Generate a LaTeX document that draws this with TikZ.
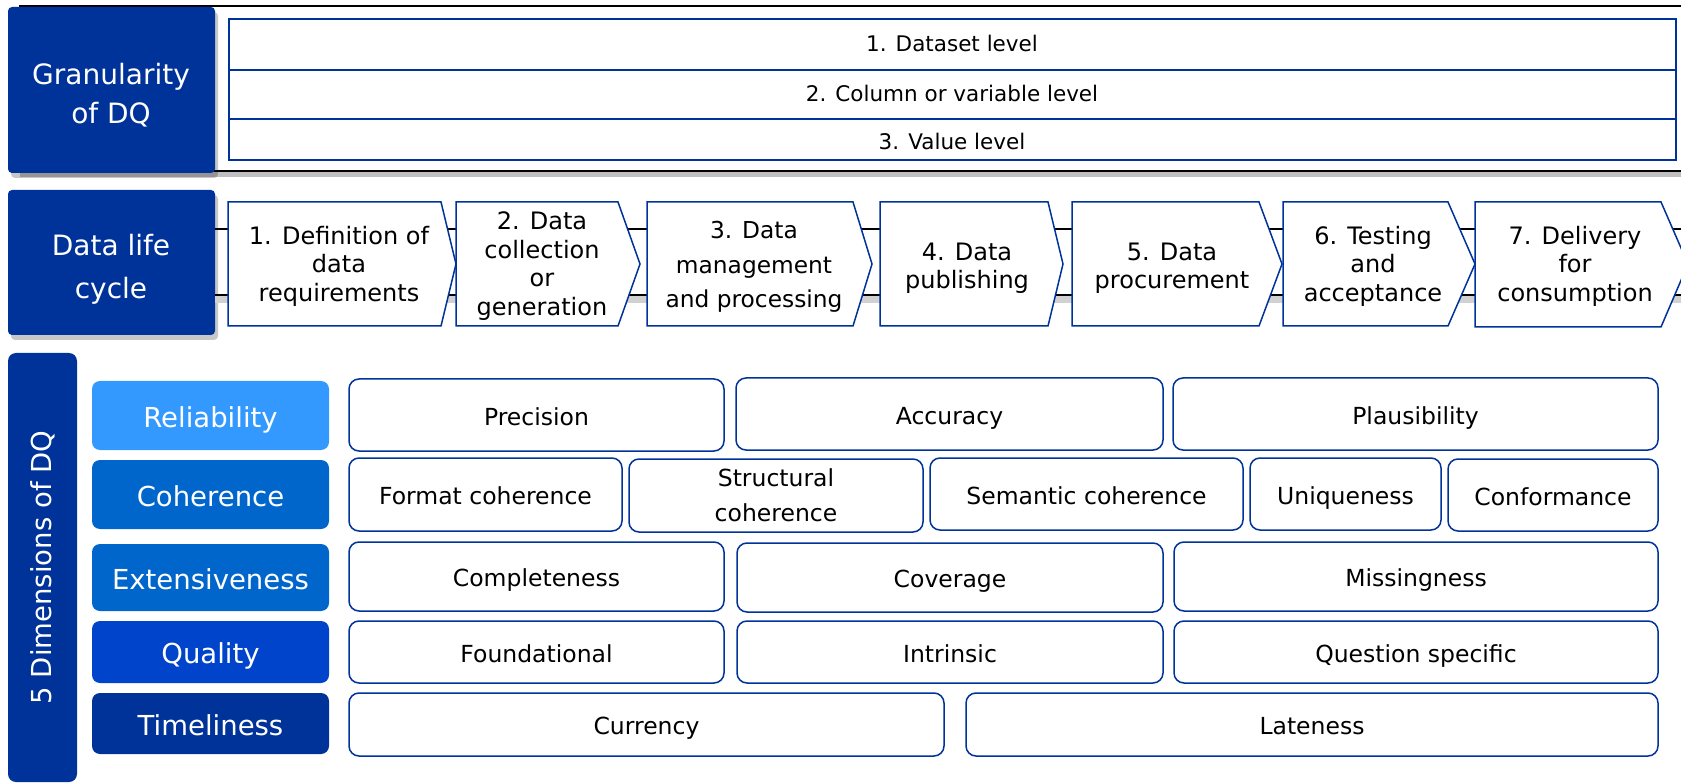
\documentclass[tikz,border=0pt]{standalone}
\usepackage{fontspec}
\setmainfont{DejaVu Sans}
\usetikzlibrary{shadows}
\definecolor{dqdark}{HTML}{003399}
\definecolor{dqlight}{HTML}{3399FF}
\definecolor{dqmid}{HTML}{0066CC}
\definecolor{dqqual}{HTML}{0044CC}
% optional style, name, x1, y1, x2, y2, text
\newcommand\boxat[7][]{%
  \node[#1, minimum width={(#5-#3)*1pt}, minimum height={(#6-#4)*1pt}] (#2) at ({(#3+#5)/2},{(#4+#6)/2}) {#7};}
\begin{document}
\begin{tikzpicture}[x=1pt,y=-1pt,
  softshadow/.style={drop shadow={shadow xshift=3pt, shadow yshift=-5pt, opacity=0.22, fill=black}},
  headbox/.style={fill=dqdark, rounded corners=4pt, inner sep=0pt, softshadow},
  headtext/.style={text=white, align=center, inner sep=0pt, font=\fontsize{28}{39}\selectfont},
  rowbox/.style={draw=dqdark, line width=1.8pt, fill=white, inner sep=0pt},
  rowtext/.style={inner sep=0pt, text height=16.3pt, text depth=0pt, font=\fontsize{21.5}{26}\selectfont},
  chev/.style={draw=dqdark, line width=1.5pt, fill=white, line join=miter},
  chevtext/.style={align=center, inner sep=0pt, font=\fontsize{24}{28.5}\selectfont},
  catbox/.style={rounded corners=8pt, text=white, inner sep=0pt, text height=24.7pt, text depth=1.1pt,
    font=\fontsize{27.5}{33}\selectfont},
  itembase/.style={draw=dqdark, line width=1.5pt, rounded corners=10pt, fill=white, align=center,
    inner sep=0pt, font=\fontsize{23.5}{35}\selectfont},
  itembox/.style={itembase, text height=21.2pt, text depth=1pt}]
\useasboundingbox (0,0) rectangle (1681,783);
\clip (0,0) rectangle (1681,783);

% ---------- Granularity of DQ ----------
\draw[line width=2.5pt, fill=white, drop shadow={shadow xshift=0pt, shadow yshift=-6pt, opacity=0.25, fill=black}]
  (20,6) rectangle (1720,171);
\boxat[headbox]{gran}{8}{7}{215}{173}{}
\node[headtext] (grant) at (111,95) {Granularity\\of DQ};
\boxat[rowbox]{g1}{229}{19}{1676}{70}{}
\boxat[rowbox]{g2}{229}{70}{1676}{119}{}
\boxat[rowbox]{g3}{229}{119}{1676}{160}{}
\node[rowtext] (g1t) at (952,43) {1. Dataset level};
\node[rowtext] (g2t) at (952,93.3) {2. Column or variable level};
\node[rowtext] (g3t) at (952,141.5) {3. Value level};

% ---------- Data life cycle ----------
\boxat[headbox]{dlc}{8}{190}{215}{335}{}
\node[headtext, font=\fontsize{28}{43}\selectfont] (dlct) at (111,269.5) {Data life\\cycle};
\coordinate (l1end) at (1690,229);
\coordinate (l2end) at (1690,295);
\coordinate (l2shadow) at (1690,300);
\draw[line width=7pt, black!18] (dlc.east |- l2shadow) -- (l2shadow);
\draw[line width=2.5pt] (dlc.east |- l1end) -- (l1end);
\draw[line width=2.5pt] (dlc.east |- l2end) -- (l2end);

\draw[chev] (228,202) -- (441,202) -- (456,264) -- (441,326) -- (228,326) -- cycle;
\draw[chev] (456,202) -- (618,202) -- (640,264) -- (618,326) -- (456,326) -- cycle;
\draw[chev] (647,202) -- (853,202) -- (872,264) -- (853,326) -- (647,326) -- cycle;
\draw[chev] (880,202) -- (1048,202) -- (1063,264) -- (1048,326) -- (880,326) -- cycle;
\draw[chev] (1072,202) -- (1259,202) -- (1282,264) -- (1259,326) -- (1072,326) -- cycle;
\draw[chev] (1283,202) -- (1448,202) -- (1475,264) -- (1448,326) -- (1283,326) -- cycle;
\draw[chev] (1475,202) -- (1661,202) -- (1688,264) -- (1661,327) -- (1475,327) -- cycle;

\node[chevtext] (c1) at (339,266) {1. Definition of\\data\\requirements};
\node[chevtext] (c2) at (542,266) {2. Data\\collection\\or\\generation};
\node[chevtext, font=\fontsize{23.3}{34.5}\selectfont] (c3) at (754,267) {3. Data\\management\\and processing};
\node[chevtext] (c4) at (967,268) {4. Data\\publishing};
\node[chevtext] (c5) at (1172,268) {5. Data\\procurement};
\node[chevtext] (c6) at (1373,266) {6. Testing\\and\\acceptance};
\node[chevtext] (c7) at (1575,266) {7. Delivery\\for\\consumption};

% ---------- 5 Dimensions of DQ ----------
\boxat[fill=dqdark, rounded corners=8pt, inner sep=0pt]{dim}{8}{353}{77}{782}{}
\node[rotate=90, text=white, inner sep=0pt, font=\fontsize{27.5}{33}\selectfont] (dimtext) at (dim.center) {5 Dimensions of DQ};

\boxat[catbox, fill=dqlight]{rel}{92}{381}{329}{450}{Reliability}
\boxat[catbox, fill=dqmid]{coh}{92}{460}{329}{529}{Coherence}
\boxat[catbox, fill=dqmid]{ext}{92}{544}{329}{611}{Extensiveness}
\boxat[catbox, fill=dqqual]{qual}{92}{621}{329}{683}{Quality}
\boxat[catbox, fill=dqdark]{time}{92}{693}{329}{754}{Timeliness}

% Reliability row
\boxat[itembox]{prec}{349}{379}{724}{451}{Precision}
\boxat[itembox]{accu}{736}{378}{1163}{450}{Accuracy}
\boxat[itembox]{plau}{1173}{378}{1658}{450}{Plausibility}
% Coherence row
\boxat[itembox]{form}{349}{458}{622}{531}{Format coherence}
\boxat[itembase]{stru}{629}{459}{923}{532}{Structural\\coherence}
\boxat[itembox]{sema}{930}{458}{1243}{530}{Semantic coherence}
\boxat[itembox]{uniq}{1250}{458}{1441}{530}{Uniqueness}
\boxat[itembox]{conf}{1448}{459}{1658}{531}{Conformance}
% Extensiveness row
\boxat[itembox]{comp}{349}{542}{724}{611}{Completeness}
\boxat[itembox]{cove}{737}{543}{1163}{612}{Coverage}
\boxat[itembox]{miss}{1174}{542}{1658}{611}{Missingness}
% Quality row
\boxat[itembox]{foun}{349}{621}{724}{683}{Foundational}
\boxat[itembox]{intr}{737}{621}{1163}{683}{Intrinsic}
\boxat[itembox]{ques}{1174}{621}{1658}{683}{Question specific}
% Timeliness row
\boxat[itembox]{curr}{349}{693}{944}{756}{Currency}
\boxat[itembox]{late}{966}{693}{1658}{756}{Lateness}
\end{tikzpicture}
\end{document}
